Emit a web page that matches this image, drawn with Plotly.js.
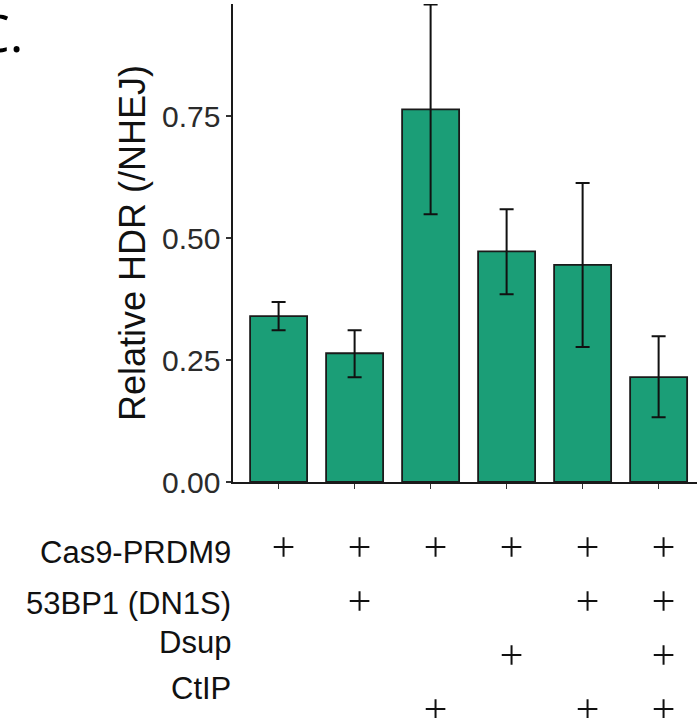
<!DOCTYPE html>
<html>
<head>
<meta charset="utf-8">
<script src="https://cdn.plot.ly/plotly-3.0.1.min.js"></script>
<style>html,body{margin:0;padding:0;background:#fff;}#chart{width:697px;height:718px;}</style>
</head>
<body>
<div id="chart"></div>
<script>
// ---- data ----
const conditions = [1, 2, 3, 4, 5, 6];
const relativeHDR = [0.340, 0.264, 0.764, 0.473, 0.445, 0.215];
const errUpper = [0.029, 0.047, 0.215, 0.086, 0.168, 0.084];
const errLower = [0.029, 0.049, 0.215, 0.088, 0.168, 0.082];
const yTickVals = [0, 0.25, 0.5, 0.75];
const yTickText = ["0.00", "0.25", "0.50", "0.75"];
const rowLabels = ["Cas9-PRDM9", "53BP1 (DN1S)", "Dsup", "CtIP"];
const rowCas9 = [1, 1, 1, 1, 1, 1];
const row53BP1 = [0, 1, 0, 0, 1, 1];
const rowDsup = [0, 0, 0, 1, 0, 1];
const rowCtIP = [0, 0, 1, 0, 1, 1];
const panelLabel = "C.";
const yTitle = "Relative HDR (/NHEJ)";

// ---- build ----
const rows = [rowCas9, row53BP1, rowDsup, rowCtIP];
const xIdx = conditions.map((c, i) => i);
const plusNudge = 0.065;          // small rightward nudge of the + signs
const labelYShift = [-5, -2, 13, 21]; // label offset (px) from its + row

const plusX = [], plusY = [];
rows.forEach((row, r) => row.forEach((v, i) => { if (v) { plusX.push(xIdx[i] + plusNudge); plusY.push(r); } }));

const annotations = rowLabels.map((lab, r) => ({
  text: lab, xref: 'paper', yref: 'y2', x: 0, y: r, yshift: labelYShift[r],
  xanchor: 'right', yanchor: 'middle', showarrow: false,
  font: {family: 'Liberation Sans, Arial, sans-serif', size: 31, color: '#111'}
}));
annotations.push({
  text: panelLabel, xref: 'paper', yref: 'paper', x: -0.448, y: 0.961,
  xanchor: 'right', yanchor: 'middle', showarrow: false,
  font: {family: 'Open Sans, sans-serif', size: 52, color: '#000'}
});

const bars = {
  type: 'bar', x: xIdx, y: relativeHDR, width: 0.75, xaxis: 'x', yaxis: 'y',
  marker: {color: '#1b9e77', line: {color: '#1a1a1a', width: 1.8}},
  error_y: {type: 'data', symmetric: false, array: errUpper, arrayminus: errLower,
            color: '#111', thickness: 2, width: 7},
  hoverinfo: 'y'
};
const pluses = {
  type: 'scatter', mode: 'markers', x: plusX, y: plusY, xaxis: 'x', yaxis: 'y2',
  marker: {symbol: 'cross-thin', size: 14, color: '#111', line: {color: '#111', width: 2}},
  cliponaxis: false, hoverinfo: 'skip'
};

const layout = {
  width: 697, height: 718,
  margin: {l: 233, r: 0, t: 4, b: 0, pad: 0},
  paper_bgcolor: '#fff', plot_bgcolor: 'rgba(0,0,0,0)',
  showlegend: false,
  xaxis: {
    anchor: 'y', range: [-0.6, 5.505], tickvals: xIdx, ticktext: xIdx.map(() => ''),
    showticklabels: false, ticks: 'outside', ticklen: 5, tickwidth: 1.5, tickcolor: '#333',
    showline: true, linecolor: '#1a1a1a', linewidth: 1.6, showgrid: false, zeroline: false,
    fixedrange: true
  },
  yaxis: {
    domain: [0.3305, 1], anchor: 'x',
    range: [0, 0.98], tickvals: yTickVals, ticktext: yTickText,
    ticks: 'outside', ticklen: 5, tickwidth: 1.5, tickcolor: '#333',
    tickfont: {family: 'Liberation Sans, Arial, sans-serif', size: 30, color: '#2b2b2b'},
    showline: true, linecolor: '#1a1a1a', linewidth: 1.6, showgrid: false, zeroline: false,
    title: {text: yTitle, standoff: 5,
            font: {family: 'Liberation Sans, Arial, sans-serif', size: 36, color: '#111'}},
    fixedrange: true
  },
  yaxis2: {
    domain: [0, 0.3305], anchor: 'free', position: 0, visible: false,
    range: [3.1667, -1.2037], fixedrange: true
  },
  annotations: annotations
};

Plotly.newPlot('chart', [bars, pluses], layout, {displayModeBar: false, staticPlot: true});
</script>
</body>
</html>
